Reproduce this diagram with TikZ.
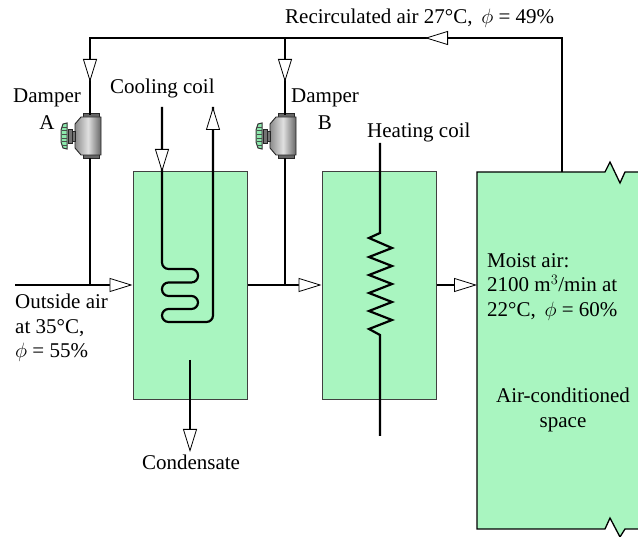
\documentclass[tikz,border=0pt]{standalone}
\usepackage{amsmath,amssymb}
\usepackage{fontspec}
\setmainfont{Liberation Serif}
\usepackage{tikz}
\usetikzlibrary{arrows.meta}
\definecolor{roomgreen}{HTML}{A9F5C0}
\definecolor{wheelgreen}{HTML}{8CE8AC}
\tikzset{
  box/.style={draw=black!75,fill=roomgreen,line width=1pt},
  airline/.style={line width=1.3pt},
  flowarrow/.style={airline,-{Triangle[open,fill=white,length=23pt,width=14pt,line width=.8pt]}},
  coilline/.style={line width=2.2pt,rounded corners=6.6pt},
  coilarrow/.style={line width=2.2pt,-{Triangle[open,fill=white,length=23pt,width=14pt,line width=.8pt]}},
  lbl/.style={font=\fontsize{21}{24.5}\selectfont,inner sep=0pt,align=left},
  damper/.pic={
    \fill[black!60,draw=black!85,line width=.8pt] (-7,-23) rectangle (9,-18);
    \fill[black!60,draw=black!85,line width=.8pt] (-7,18) rectangle (9,22);
    \shade[left color=black!45,right color=black!60,middle color=black!12,draw=black!85,line width=.9pt]
      (-9,-19) -- (11,-19) -- (11,19) -- (-9,19) -- (-15,12) -- (-15,-12) -- cycle;
    \fill[black!55,draw=black!85,line width=.6pt] (-18,-5) rectangle (-15,5);
    \fill[black!55,draw=black!85,line width=.6pt] (-22,-7) rectangle (-18,7);
    \fill[wheelgreen,draw=black!80,line width=1pt] (-23,-13) -- (-27,-12) -- (-29,-6) -- (-29,6) -- (-27,12) -- (-23,13) -- cycle;
    \foreach \yy in {-9,-5.5,-2,2,5.5,9}
      \draw[black!70,line width=.8pt] (-28,\yy) -- (-23,\yy);
  },
}
\begin{document}
\begin{tikzpicture}[x=1pt,y=-1pt]
\useasboundingbox (0,0) rectangle (638,537);
% boxes
\node[box,minimum width=114pt,minimum height=228pt,inner sep=0pt] (coolbox) at (190,286) {};
\node[box,minimum width=114pt,minimum height=228pt,inner sep=0pt] (heatbox) at (379,286) {};
\draw[box,draw=black,line width=1.3pt] (638,172) -- (625,172) -- (620,183) -- (610,162) -- (605,172) -- (477,172)
  -- (477,529) -- (605,529) -- (610,518) -- (620,537) -- (625,529) -- (638,529);
\coordinate (room) at (477,285);
\coordinate (roomtop) at (562,172);
% air lines
\coordinate (outside) at (15,285);
\coordinate (joina) at (90,285);
\coordinate (joinb) at (285,285);
\coordinate (corner) at (562,38);
\coordinate (topa) at (90,38);
\coordinate (topb) at (285,38);
\pic at (90,136) {damper};
\pic at (285,136) {damper};
\draw[airline] (roomtop) -- (corner) -- (topa) -- (90,115);
\draw[airline] (topb) -- (285,115);
\draw[airline] (90,158) -- (joina);
\draw[airline] (285,158) -- (joinb);
\draw[flowarrow] (corner) -- (425,38);
\draw[airline] (425,38) -- (topb);
\draw[flowarrow] (topa) -- (90,82);
\draw[flowarrow] (topb) -- (285,82);
\draw[flowarrow] (outside) -- (coolbox.west |- room);
\draw[flowarrow] (coolbox.east |- room) -- (heatbox.west |- room);
\draw[flowarrow] (heatbox.east |- room) -- (room);
\draw[flowarrow] (190,360) -- (190,452);
% coils
\draw[coilline] (162,107) -- (162,269) -- (198,269) -- (198,282.5) -- (162,282.5) -- (162,296) -- (198,296)
  -- (198,309) -- (162,309) -- (162,322) -- (213,322) -- (213,107);
\draw[coilarrow] (162,107) -- (162,172);
\draw[coilarrow] (213,172) -- (213,107);
\draw[line width=2.2pt] (380,143) -- (380,233) -- (369,238) -- (392,248) -- (369,257) -- (392,266) -- (369,275)
  -- (392,284) -- (369,293) -- (392,302) -- (369,311) -- (392,320) -- (369,329) -- (380,335) -- (380,436);
% labels
\node[lbl,anchor=west] (recirc) at (285,18) {Recirculated air 27°C,\, $\phi$ = 49\%};
\node[lbl,align=center] (dampera) at (47,109) {Damper\\[2pt]A};
\node[lbl,align=center] (damperb) at (325,109) {Damper\\[2pt]B};
\node[lbl,anchor=west] (coolcoil) at (110,88) {Cooling coil};
\node[lbl,anchor=west] (heatcoil) at (367,132) {Heating coil};
\node[lbl,anchor=north west] (outair) at (15,294) {Outside air\\at 35°C,\\$\phi$ = 55\%};
\node[lbl] (cond) at (191,462) {Condensate};
\node[lbl,anchor=north west] (moist) at (487,253) {Moist air:\\2100 m$^3$/min at\\22°C,\, $\phi$ = 60\%};
\node[lbl,align=center] (space) at (563,410) {Air-conditioned\\space};
\end{tikzpicture}
\end{document}
